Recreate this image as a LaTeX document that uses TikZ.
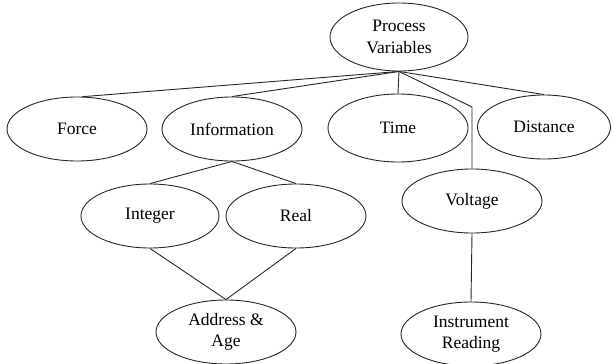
\documentclass[tikz,border=0pt]{standalone}
\usepackage{fontspec}
\setmainfont{Liberation Serif}
\usetikzlibrary{shapes.geometric}
\begin{document}
\begin{tikzpicture}[x=1pt,y=-1pt,
  concept/.style={ellipse,draw=black!85,line width=0.9pt,inner sep=0pt,
    minimum width=140pt,minimum height=64pt,align=center,
    font=\fontsize{17.5}{21.5}\selectfont},
  link/.style={draw=black!85,line width=0.9pt}]
\useasboundingbox (0,0) rectangle (613,364);
\node[concept,minimum width=138pt,minimum height=68pt] (pv) at (399,37) {Process\\Variables};
\node[concept] (force) at (77,129) {Force};
\node[concept] (info) at (232,129) {Information};
\node[concept,minimum height=68pt] (time) at (398,128) {Time};
\node[concept,minimum width=133pt] (dist) at (544,127) {Distance};
\node[concept] (volt) at (472,201) {Voltage};
\node[concept,minimum width=138pt] (int) at (150,216) {Integer};
\node[concept] (real) at (296,216) {Real};
\node[concept] (addr) at (226,332) {Address \&\\Age};
\node[concept] (instr) at (471,334) {Instrument\\Reading};
\coordinate (vbend) at (472,107);
% branches from the root
\draw[link] (pv.south) -- (force.80);
\draw[link] (pv.south) -- (info.north);
\draw[link] (pv.south) -- (time.north);
\draw[link] (pv.south) -- (dist.north);
\draw[link] (pv.south) -- (vbend) -- (volt.north);
% lower levels
\draw[link] (info.south) -- (int.north);
\draw[link] (info.south) -- (real.north);
\draw[link] (int.south) -- (addr.north);
\draw[link] (real.south) -- (addr.north);
\draw[link] (volt.south) -- (instr.north);
\end{tikzpicture}
\end{document}
